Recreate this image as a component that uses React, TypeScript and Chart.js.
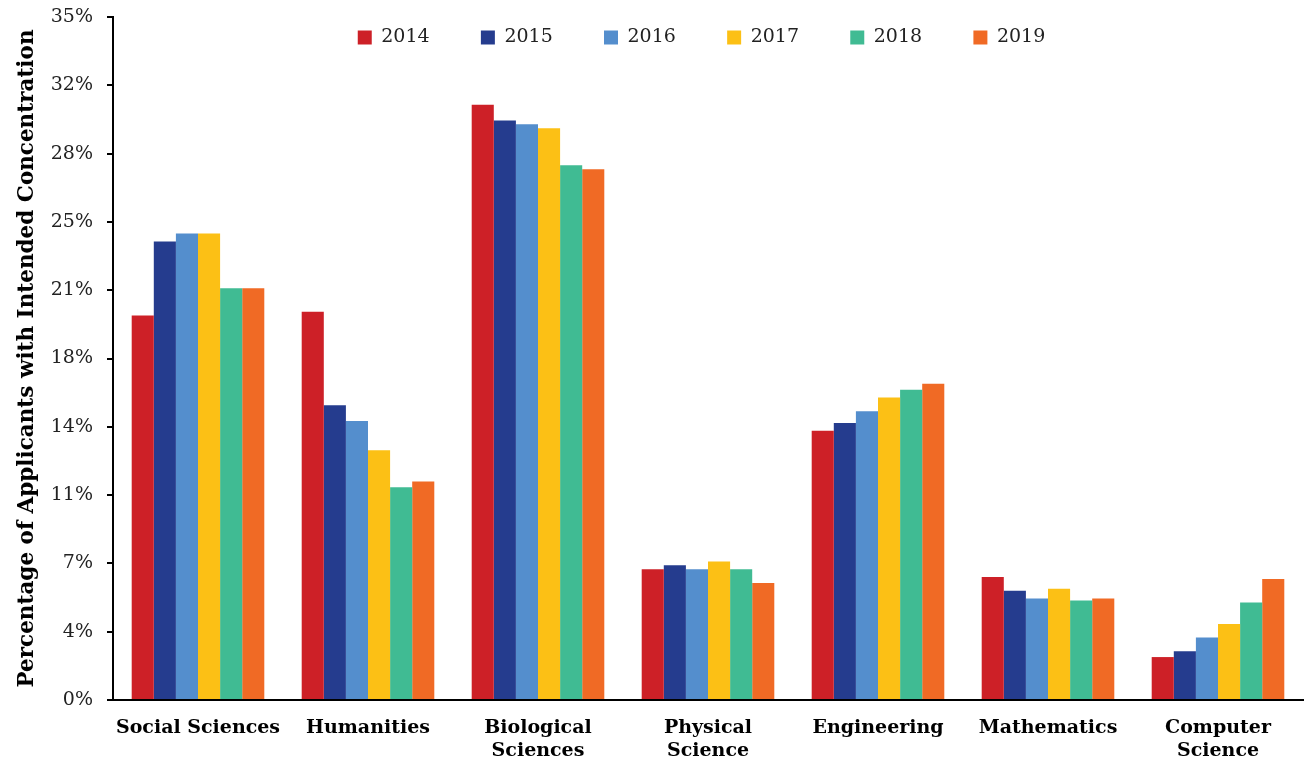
import React, { useEffect, useRef } from 'react';
import { Chart, registerables } from 'chart.js';

Chart.register(...registerables);

const categories: string[][] = [
  ['Social Sciences'],
  ['Humanities'],
  ['Biological', 'Sciences'],
  ['Physical', 'Science'],
  ['Engineering'],
  ['Mathematics'],
  ['Computer', 'Science'],
];

const years = ['2014', '2015', '2016', '2017', '2018', '2019'];

const v2014 = [19.7, 19.9, 30.5, 6.7, 13.8, 6.3, 2.2];
const v2015 = [23.5, 15.1, 29.7, 6.9, 14.2, 5.6, 2.5];
const v2016 = [23.9, 14.3, 29.5, 6.7, 14.8, 5.2, 3.2];
const v2017 = [23.9, 12.8, 29.3, 7.1, 15.5, 5.7, 3.9];
const v2018 = [21.1, 10.9, 27.4, 6.7, 15.9, 5.1, 5.0];
const v2019 = [21.1, 11.2, 27.2, 6.0, 16.2, 5.2, 6.2];

const seriesValues = [v2014, v2015, v2016, v2017, v2018, v2019];

const seriesColors = ['#cd2027', '#253c8e', '#548ecd', '#fcc015', '#40bb93', '#f06a25'];

const yTickLabels = ['0%', '4%', '7%', '11%', '14%', '18%', '21%', '25%', '28%', '32%', '35%'];

const FONT = "'DejaVu Serif', 'Liberation Serif', serif";

// Moves the (top) legend down and right so it sits inside the plot area, as in the original.
const legendInside = {
  id: 'legendInside',
  afterLayout(chart: any) {
    const lg = chart.legend;
    if (!lg) return;
    const dy = chart.chartArea.top + 2 - lg.top;
    lg.top += dy;
    lg.bottom += dy;
    const dx = 50;
    lg.left += dx;
    lg.right += dx;
  },
};

export default function App() {
  const ref = useRef<HTMLCanvasElement | null>(null);

  useEffect(() => {
    if (!ref.current) return;
    const chart = new Chart(ref.current, {
      type: 'bar',
      data: {
        labels: categories,
        datasets: years.map((y, i) => ({
          label: y,
          data: seriesValues[i],
          backgroundColor: seriesColors[i],
          borderWidth: 0,
          categoryPercentage: 0.78,
          barPercentage: 1,
        })),
      },
      plugins: [legendInside],
      options: {
        responsive: false,
        animation: false,
        layout: { padding: { left: 0, right: 4, top: -100, bottom: 0 } },
        plugins: {
          tooltip: { enabled: false },
          legend: {
            position: 'top',
            align: 'center',
            labels: {
              boxWidth: 14,
              boxHeight: 14,
              padding: 9,
              color: '#222',
              font: { family: FONT, size: 19 },
              generateLabels: (c: any) => {
                const items = (Chart as any).defaults.plugins.legend.labels.generateLabels(c);
                return items.map((it: any, i: number) => ({
                  ...it,
                  text: i < items.length - 1 ? it.text + '\u00a0'.repeat(7) : it.text,
                }));
              },
            },
          },
        },
        scales: {
          x: {
            grid: { display: false, drawTicks: false },
            border: { display: true, color: '#000', width: 2 },
            ticks: {
              color: '#000',
              font: { family: FONT, size: 19, weight: 'bold', lineHeight: 1.2 },
              maxRotation: 0,
              autoSkip: false,
              padding: 17,
            },
            afterFit: (s: any) => {
              s.height = 61;
            },
          },
          y: {
            min: 0,
            max: 35,
            grid: { drawOnChartArea: false, drawTicks: true, tickLength: 6, color: '#000', lineWidth: 2 },
            border: { display: true, color: '#000', width: 2 },
            ticks: {
              stepSize: 3.5,
              color: '#222',
              padding: 14,
              font: { family: FONT, size: 19 },
              callback: (_v: any, i: number) => yTickLabels[i],
            },
            title: {
              display: true,
              text: 'Percentage of Applicants with Intended Concentration',
              color: '#000',
              font: { family: FONT, size: 21.5, weight: 'bold', lineHeight: 1.2 },
              padding: { top: 15, bottom: 0 },
            },
            afterFit: (s: any) => {
              s.width = 113;
              s.paddingTop = 17;
              s.paddingBottom = 0;
            },
          },
        },
      } as any,
    });
    return () => chart.destroy();
  }, []);

  return (
    <div style={{ position: 'fixed', left: 0, top: 0, width: 1307, height: 761, background: '#fff' }}>
      <canvas ref={ref} width={1307} height={761} />
    </div>
  );
}
